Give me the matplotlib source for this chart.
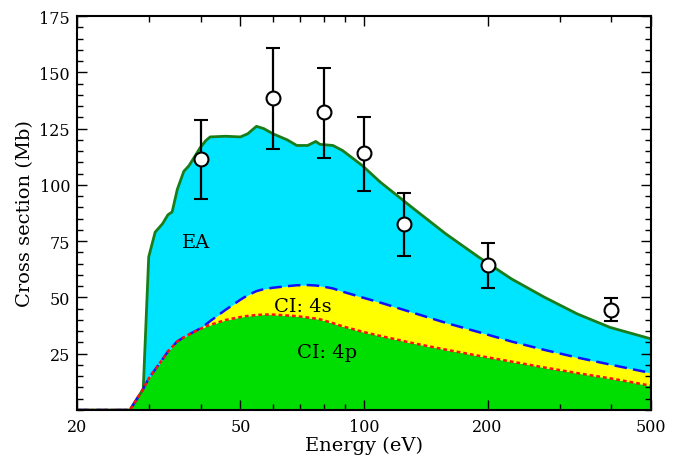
import matplotlib
matplotlib.use("Agg")
import matplotlib.pyplot as plt
from matplotlib.ticker import FixedLocator, NullFormatter, MultipleLocator

plt.rcParams['font.family'] = ['DejaVu Serif']

# Theory curves (energy in eV, cross sections in Mb)
energy = [20, 26.9, 28.0, 28.8, 29.0, 29.9, 31.0, 32.3, 33.3, 34.1, 35.1, 36.4, 37.5,
          39.9, 41.2, 42.2, 46, 50, 52.1, 54.7, 57, 60, 65, 68.6, 72.9, 76.3, 78.1,
          84, 88.6, 99, 109.6, 131.7, 158.3, 190.3, 228.8, 275, 330.5, 397.3, 500]
ci_4p = [0, 0, 5, 8.5, 9.5, 14, 18, 22.5, 26, 28, 30.5, 32.3, 33.6,
         36, 37.2, 37.8, 40, 41.3, 41.8, 42.2, 42.4, 42.4, 42, 41.7, 41.1, 40.6, 40.3,
         38.6, 37.2, 34.8, 32.9, 29.7, 26.8, 24.1, 21.5, 18.9, 16.4, 14.1, 10.8]
ci_4s_plus_4p = [0, 0, 5, 8.5, 9.5, 14, 18, 22.5, 26, 28, 30.5, 32.3, 33.6,
                 36.2, 38, 39.5, 44.5, 49, 51, 52.8, 53.7, 54.3, 55, 55.4, 55.5, 55.3, 55.1,
                 54, 52.6, 50, 47.7, 43.2, 38.7, 34.6, 30.4, 26.7, 23.3, 20.2, 16.4]
total = [0, 0, 5, 8.5, 9.5, 68, 79, 82.7, 86.7, 88, 98, 106, 108.6,
         116.5, 119.7, 121.3, 121.6, 121.3, 122.7, 126, 125, 122.7, 120, 117.5, 117.5, 119.3, 118,
         117.5, 115.3, 108.6, 101.2, 89.6, 78.2, 67.9, 58.2, 50.1, 42.7, 36.7, 31.6]

# Experimental data
exp_energy = [40, 60, 80, 100, 125, 200, 400]
exp_sigma = [111.6, 138.7, 132.4, 114.2, 82.7, 64.4, 44.6]
exp_err_low = [17.8, 22.7, 20.4, 16.9, 14.3, 10.2, 5.0]
exp_err_high = [17.3, 22.2, 19.6, 16.0, 13.7, 9.8, 5.2]

fig = plt.figure(figsize=(6.79, 4.60), dpi=100)
ax = fig.add_axes([0.1134, 0.1065, 0.8454, 0.8565])

ax.fill_between(energy, 0, ci_4p, color='#00dd00', linewidth=0, zorder=1)
ax.fill_between(energy, ci_4p, ci_4s_plus_4p, color='#ffff00', linewidth=0, zorder=1)
ax.fill_between(energy, ci_4s_plus_4p, total, color='#00e5ff', linewidth=0, zorder=1)

ax.plot(energy, total, color='#1a7d1a', lw=2.0, zorder=2)
ax.plot(energy, ci_4s_plus_4p, color='#1010ff', lw=1.8, ls=(0, (5, 2.5)), zorder=2)
ax.plot(energy, ci_4p, color='#ff1010', lw=1.8, ls=(0, (1.5, 1.2)), zorder=2)

ax.errorbar(exp_energy, exp_sigma, yerr=[exp_err_low, exp_err_high], fmt='o',
            color='black', mfc='white', mec='black', ms=10, mew=1.5,
            elinewidth=1.6, capsize=5, capthick=1.6, zorder=4)

ax.text(39.0, 74.7, 'EA', fontsize=14, ha='center', va='center', zorder=3)
ax.text(71.0, 46.2, 'CI: 4s', fontsize=14, ha='center', va='center', zorder=3)
ax.text(81.3, 25.8, 'CI: 4p', fontsize=14, ha='center', va='center', zorder=3)

ax.set_xscale('log')
ax.set_xlim(20, 500)
ax.set_ylim(0, 175)

xticks = [20, 50, 100, 200, 500]
xminor = [30, 40, 60, 70, 80, 90, 300, 400]
ax.xaxis.set_major_locator(FixedLocator(xticks))
ax.xaxis.set_minor_locator(FixedLocator(xminor))
ax.set_xticklabels([str(t) for t in xticks])
ax.xaxis.set_minor_formatter(NullFormatter())

yticks = [25, 50, 75, 100, 125, 150, 175]
ax.yaxis.set_major_locator(FixedLocator(yticks))
ax.yaxis.set_minor_locator(MultipleLocator(5))
ax.set_yticklabels([str(t) for t in yticks])

ax.tick_params(which='both', direction='in', top=True, right=True, labelsize=11.5,
               color='black', width=1.0)
ax.tick_params(which='major', length=7)
ax.tick_params(axis='y', which='major', pad=5)
ax.tick_params(axis='x', which='major', pad=6)
ax.tick_params(which='minor', length=4)
for s in ax.spines.values():
    s.set_linewidth(1.5)
    s.set_zorder(5)

ax.set_xlabel('Energy (eV)', fontsize=14, labelpad=0)
ax.set_ylabel('Cross section (Mb)', fontsize=14, labelpad=4)

fig.savefig('out.png', dpi=100)
